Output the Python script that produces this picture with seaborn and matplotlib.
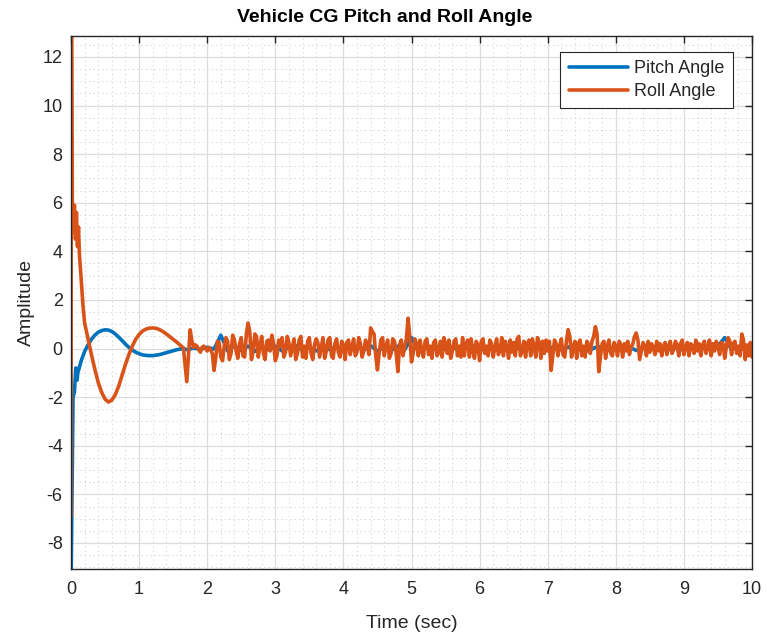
import numpy as np
import pandas as pd
import matplotlib
matplotlib.use("Agg")
import matplotlib.pyplot as plt
from matplotlib.ticker import MultipleLocator
import seaborn as sns

# ---- Pitch angle: initial transient ----
pitch_t_transient = [0.0, 0.03, 0.05, 0.07, 0.09, 0.10, 0.15, 0.20, 0.25, 0.30, 0.35,
                     0.40, 0.45, 0.50, 0.55, 0.60, 0.65, 0.70, 0.75, 0.80, 0.85, 0.90,
                     0.95, 1.00, 1.05, 1.10, 1.15, 1.20, 1.25, 1.30, 1.35, 1.40, 1.45,
                     1.50, 1.55, 1.60, 1.65]
pitch_transient = [-10.0, -2.0, -1.8, -0.8, -1.3, -1.0, -0.5, -0.12, 0.15, 0.38, 0.55,
                   0.67, 0.74, 0.77, 0.76, 0.70, 0.60, 0.47, 0.33, 0.18, 0.05, -0.06,
                   -0.15, -0.21, -0.26, -0.28, -0.29, -0.29, -0.27, -0.25, -0.21, -0.17, -0.13,
                   -0.09, -0.05, -0.02, 0.0]

# ---- Pitch angle: steady-state, 0.1 s samples from 1.7 s to 10.0 s ----
pitch_tail = [-0.05, 0.02, -0.03, 0.05, -0.02, 0.55, -0.1, 0.12, -0.08, 0.1,
              -0.12, 0.08, -0.05, 0.1, -0.1, 0.05, 0.12, -0.08, 0.06, -0.1,
              0.1, -0.05, 0.08, -0.12, 0.05, 0.1, -0.06, 0.12, -0.1, 0.05,
              -0.08, 0.1, -0.05, 0.45, -0.1, 0.08, -0.06, 0.1, -0.05, 0.06,
              -0.08, 0.05, 0.1, -0.1, 0.06, -0.05, 0.08, -0.07, 0.1, -0.04,
              0.05, -0.1, 0.08, -0.06, 0.1, -0.05, 0.07, -0.08, 0.06, -0.1,
              0.05, 0.08, -0.06, 0.1, -0.05, 0.06, -0.08, 0.05, 0.1, -0.06,
              0.08, -0.05, 0.06, -0.08, 0.1, -0.04, 0.05, -0.06, 0.1, 0.45,
              -0.05, 0.06, -0.04, 0.02]

# ---- Roll angle: initial transient ----
roll_t_transient = [0.0, 0.005, 0.02, 0.035, 0.05, 0.065, 0.08, 0.095, 0.11, 0.125,
                    0.147, 0.175, 0.20, 0.25, 0.30, 0.35, 0.40, 0.45, 0.50, 0.55,
                    0.60, 0.65, 0.70, 0.75, 0.80, 0.85, 0.90, 0.95, 1.00, 1.05,
                    1.10, 1.15, 1.20, 1.25, 1.30, 1.35, 1.40, 1.45, 1.50, 1.55,
                    1.60, 1.65, 1.70]
roll_transient = [-6.9, 16.0, 6.0, 4.8, 5.9, 4.5, 5.6, 4.2, 5.0, 3.8,
                  2.96, 1.8, 1.05, 0.4, -0.25, -0.85, -1.4, -1.8, -2.08, -2.2,
                  -2.12, -1.9, -1.55, -1.1, -0.65, -0.25, 0.1, 0.38, 0.58, 0.72,
                  0.80, 0.84, 0.85, 0.83, 0.78, 0.70, 0.60, 0.49, 0.38, 0.27,
                  0.15, 0.03, -1.36]

# ---- Roll angle: steady-state, 0.025 s samples from 1.75 s to 10.0 s ----
roll_tail = [
    # 1.75 - 2.725
    0.77, 0.3, 0.05, 0.15, 0.1, -0.05, -0.15, 0.05, 0.1, 0.0,
    -0.1, 0.05, -0.05, -0.2, -0.9, -0.4, 0.3, 0.25, -0.35, -0.5,
    0.1, 0.45, 0.3, -0.45, -0.2, 0.55, 0.35, -0.1, -0.4, 0.2,
    0.45, -0.3, -0.35, 0.6, 1.05, 0.7, -0.45, -0.1, 0.6, 0.5,
    # 2.75 - 3.725
    -0.35, 0.1, 0.5, -0.2, -0.45, 0.3, 0.35, -0.1, 0.55, 0.2,
    -0.5, -0.3, 0.35, 0.1, 0.45, -0.35, -0.15, 0.5, 0.25, -0.3,
    0.05, 0.4, -0.45, -0.2, 0.35, 0.5, -0.35, 0.1, -0.4, 0.3,
    0.45, -0.2, -0.45, 0.15, 0.4, 0.25, -0.35, 0.05, 0.45, -0.4,
    # 3.75 - 4.725
    -0.1, 0.35, 0.45, -0.3, -0.4, 0.2, 0.4, -0.15, -0.35, 0.3,
    0.15, -0.45, 0.25, 0.35, -0.25, 0.05, 0.4, -0.3, -0.15, 0.45,
    0.2, -0.35, -0.1, 0.35, 0.15, -0.25, 0.85, 0.7, 0.6, -0.3,
    -0.88, -0.2, 0.35, 0.45, -0.3, 0.1, 0.35, -0.4, -0.2, 0.4,
    # 4.75 - 5.725
    0.3, -0.2, -0.95, 0.15, 0.35, -0.3, 0.05, 0.4, 1.25, 0.45,
    -0.55, -0.2, 0.4, 0.2, -0.3, 0.35, -0.1, -0.35, 0.3, 0.4,
    -0.25, 0.1, -0.4, 0.25, 0.35, -0.3, -0.15, 0.3, -0.35, 0.45,
    0.2, -0.2, 0.35, -0.4, -0.1, 0.3, 0.4, -0.3, 0.1, -0.35,
    # 5.75 - 6.725
    0.45, -0.3, 0.2, 0.35, -0.35, 0.4, -0.1, -0.4, 0.3, 0.15,
    -0.5, 0.3, 0.4, -0.2, 0.1, -0.3, 0.35, 0.2, -0.35, 0.05,
    0.4, -0.25, -0.1, 0.45, -0.3, 0.3, 0.1, -0.4, 0.35, -0.15,
    0.25, -0.3, 0.4, 0.5, -0.3, -0.1, 0.3, -0.35, 0.2, 0.35,
    # 6.75 - 7.725
    -0.3, 0.4, 0.1, -0.35, 0.45, 0.25, -0.4, 0.3, -0.2, 0.35,
    -0.1, 0.3, -0.9, -0.3, 0.35, 0.2, -0.3, 0.1, 0.4, -0.25,
    -0.35, 0.3, 0.78, 0.5, -0.35, 0.05, 0.3, -0.4, 0.2, 0.35,
    -0.3, 0.1, -0.35, 0.3, 0.15, -0.2, 0.3, 0.5, 0.9, 0.6,
    # 7.75 - 8.725
    -0.95, -0.3, 0.2, 0.3, -0.4, 0.1, 0.35, -0.2, -0.3, 0.25,
    0.1, -0.3, 0.3, 0.15, -0.35, 0.2, -0.1, 0.3, -0.25, 0.05,
    0.2, 0.5, 0.64, 0.35, -0.45, -0.1, 0.25, 0.1, -0.3, 0.3,
    -0.15, 0.2, 0.05, -0.25, 0.3, -0.1, 0.2, -0.3, 0.1, 0.25,
    # 8.75 - 9.725
    -0.25, 0.1, 0.3, -0.2, -0.05, 0.3, 0.15, -0.3, 0.2, 0.35,
    -0.25, 0.05, 0.25, -0.3, 0.2, 0.1, -0.2, 0.35, -0.1, 0.2,
    -0.3, 0.15, 0.3, -0.2, 0.05, 0.35, -0.3, 0.2, -0.1, 0.3,
    0.1, -0.25, 0.25, 0.2, -0.4, 0.1, 0.45, 0.3, -0.25, 0.2,
    # 9.75 - 10.0
    0.3, -0.2, 0.1, -0.3, 0.6, 0.35, -0.45, 0.15, -0.3, 0.25, -0.35,
]

series_names = ["Pitch Angle", "Roll Angle"]
series_colors = ["#0072BD", "#D95319"]

pitch_t = np.concatenate([pitch_t_transient, np.linspace(1.7, 10.0, len(pitch_tail))])
pitch = np.concatenate([pitch_transient, pitch_tail])
roll_t = np.concatenate([roll_t_transient, np.linspace(1.75, 10.0, len(roll_tail))])
roll = np.concatenate([roll_transient, roll_tail])

df = pd.concat([
    pd.DataFrame({"Time": pitch_t, "Amplitude": pitch, "Signal": series_names[0]}),
    pd.DataFrame({"Time": roll_t, "Amplitude": roll, "Signal": series_names[1]}),
], ignore_index=True)

sns.set_style("white")
plt.rcParams["font.family"] = ["Liberation Sans", "DejaVu Sans"]
plt.rcParams["axes.unicode_minus"] = False

fig = plt.figure(figsize=(7.66, 6.41), dpi=100)
ax = fig.add_axes([71 / 766, 1 - 569 / 641, 681 / 766, 533 / 641])

sns.lineplot(data=df, x="Time", y="Amplitude", hue="Signal",
             palette=dict(zip(series_names, series_colors)),
             estimator=None, sort=False, linewidth=2.6, ax=ax)

ax.set_xlim(0, 10)
ax.set_ylim(-9.07, 12.86)
ax.xaxis.set_major_locator(MultipleLocator(1))
ax.yaxis.set_major_locator(MultipleLocator(2))
ax.xaxis.set_minor_locator(MultipleLocator(0.2))
ax.yaxis.set_minor_locator(MultipleLocator(0.5))

ax.grid(True, which="major", color="#dcdcdc", linewidth=0.9, linestyle="-")
ax.grid(True, which="minor", color="#d8d8d8", linewidth=0.7, linestyle=(0, (1.5, 3)))
ax.set_axisbelow(True)

ax.tick_params(which="major", direction="in", length=5, width=1, top=True, right=True,
               labelsize=13, colors="#262626", pad=9)
ax.tick_params(which="minor", length=0)
ax.tick_params(axis="y", pad=6)
for s in ax.spines.values():
    s.set_color("#262626")
    s.set_linewidth(1.0)

ax.set_xlabel("")
ax.set_ylabel("")
fig.text(412 / 766, 1 - 624 / 641, "Time (sec)", ha="center", va="center",
         fontsize=14, color="#262626")
fig.text(26 / 766, 1 - 302 / 641, "Amplitude", ha="center", va="center",
         rotation=90, fontsize=14, color="#262626")
fig.text(385 / 766, 1 - 18 / 641, "Vehicle CG Pitch and Roll Angle", ha="center",
         va="center", fontsize=14, fontweight="bold", color="black")

handles, labels = ax.get_legend_handles_labels()
leg = ax.legend(handles, labels, loc="upper right",
                bbox_to_anchor=((733 - 71) / 681, (569 - 52) / 533),
                borderaxespad=0, fontsize=13, frameon=True, fancybox=False,
                edgecolor="#262626", framealpha=1, handlelength=3.3,
                handletextpad=0.35, borderpad=0.45, labelspacing=0.33)
leg.get_frame().set_linewidth(0.8)
for line in leg.get_lines():
    line.set_linewidth(2.6)

fig.savefig("out.png", dpi=100)
